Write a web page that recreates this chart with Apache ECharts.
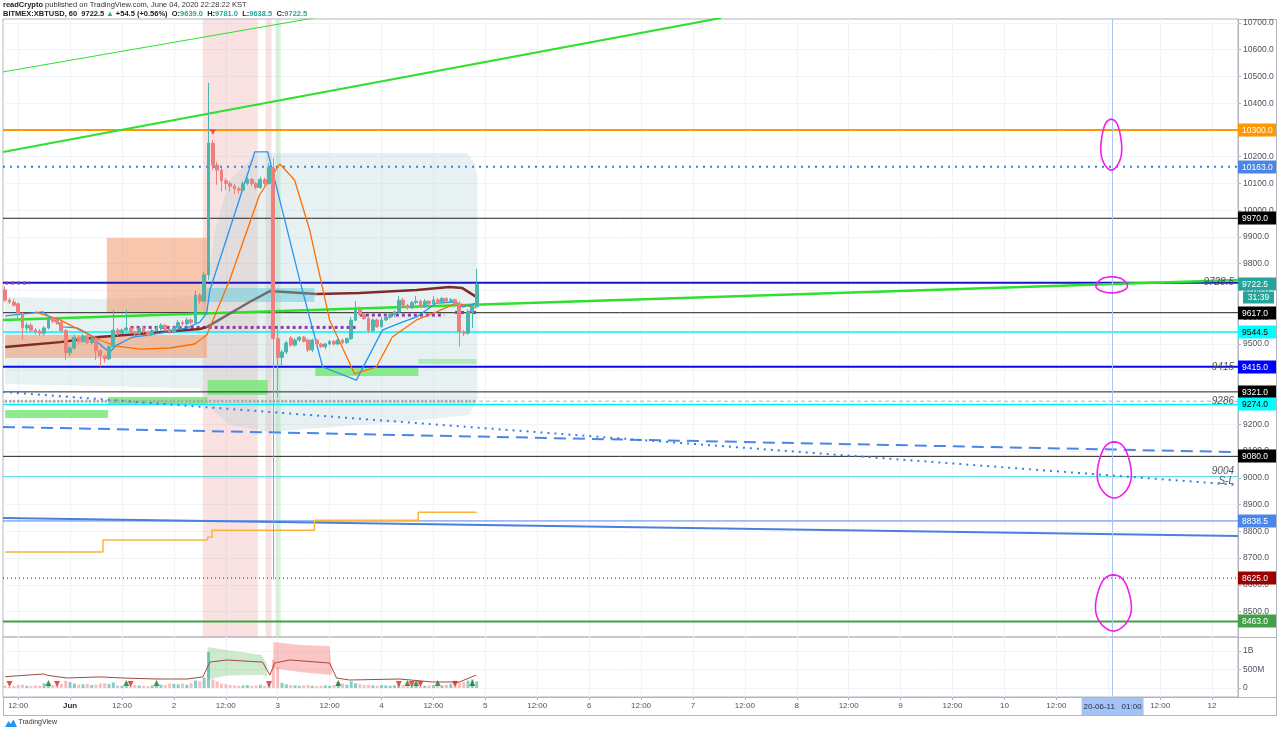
<!DOCTYPE html>
<html><head><meta charset="utf-8">
<script src="https://cdn.jsdelivr.net/npm/echarts@6/dist/echarts.min.js"></script>
<style>html,body{margin:0;padding:0;background:#fff}#c{width:1280px;height:731px}</style>
</head><body><div id="c"></div>
<script>
// ---------- DATA (hours from 2020-06-01 00:00, prices in USD) ----------
const START_HOUR = -15;
// hourly candles [open, high, low, close]
const candles = [
 [9702,9715,9657,9664],[9664,9672,9650,9657],[9657,9668,9640,9645],[9650,9655,9590,9613],[9613,9620,9515,9560],
 [9560,9580,9548,9570],[9570,9578,9545,9552],[9552,9560,9535,9545],[9548,9556,9530,9540],[9540,9566,9532,9560],
 [9560,9605,9555,9597],[9597,9603,9578,9585],[9588,9595,9572,9580],[9580,9586,9540,9550],[9550,9556,9440,9467],
 [9467,9492,9455,9485],[9485,9535,9478,9525],[9525,9532,9500,9510],[9510,9538,9505,9530],[9530,9534,9498,9505],
 [9505,9526,9498,9520],[9520,9524,9440,9475],[9475,9480,9415,9455],[9455,9460,9430,9445],[9445,9495,9440,9490],
 [9490,9627,9485,9552],[9552,9560,9530,9540],[9540,9558,9535,9552],[9552,9627,9545,9560],[9560,9565,9538,9545],
 [9545,9550,9530,9538],[9538,9566,9532,9560],[9560,9565,9540,9545],[9545,9550,9528,9535],[9535,9556,9530,9550],
 [9550,9566,9545,9560],[9560,9578,9550,9570],[9570,9575,9550,9555],[9555,9560,9538,9545],[9545,9566,9540,9560],
 [9560,9590,9555,9580],[9580,9588,9568,9575],[9575,9598,9570,9590],[9590,9596,9572,9580],[9580,9700,9575,9683],
 [9683,9690,9650,9660],[9660,9770,9655,9758],
 [9758,10476,9740,10251],[10251,10262,10150,10169],[10169,10180,10095,10150],[10150,10158,10070,10110],
 [10110,10120,10075,10100],[10100,10108,10070,10090],[10090,10098,10060,10080],[10080,10088,10062,10075],
 [10075,10108,10070,10100],[10100,10122,10094,10115],[10115,10120,10090,10100],[10100,10106,10078,10085],
 [10085,10125,10080,10115],[10115,10122,10092,10100],[10100,10175,10095,10160],
 [10160,10195,8620,9520],[9520,9560,9300,9450],
 [9450,9478,9420,9470],[9470,9512,9462,9504],[9522,9530,9490,9496],[9496,9522,9490,9515],[9515,9530,9508,9525],
 [9525,9530,9505,9510],[9515,9520,9470,9478],[9478,9520,9470,9515],[9515,9520,9495,9500],[9500,9505,9485,9490],
 [9490,9505,9480,9500],[9500,9515,9495,9510],[9510,9515,9494,9500],[9500,9520,9495,9515],[9515,9520,9500,9505],
 [9505,9525,9500,9520],[9520,9600,9515,9589],[9589,9660,9585,9627],[9627,9640,9605,9610],[9610,9615,9590,9595],
 [9595,9600,9540,9550],[9550,9595,9545,9590],[9590,9595,9560,9565],[9565,9600,9560,9590],[9590,9608,9585,9600],
 [9600,9615,9595,9610],[9610,9625,9600,9620],[9620,9680,9615,9664],[9664,9672,9640,9645],[9645,9650,9628,9635],
 [9635,9662,9630,9655],[9655,9680,9648,9660],[9660,9666,9635,9640],[9640,9668,9636,9660],[9660,9665,9645,9650],
 [9650,9678,9646,9665],[9665,9672,9650,9655],[9655,9676,9650,9670],[9670,9675,9655,9660],[9660,9672,9655,9665],
 [9665,9670,9645,9650],[9650,9660,9490,9545],[9545,9552,9530,9540],[9540,9630,9535,9620],[9620,9645,9560,9639],
 [9639,9781,9638.5,9722.5]
];
// hourly volume, millions
const volumes = [
 60,40,50,80,90,60,50,70,60,130,90,70,80,110,200,
 160,120,90,100,110,80,90,120,130,110,150,70,60,50,60,80,70,60,50,70,60,90,80,120,110,100,120,90,130,200,180,280,
 970,
 230,180,120,100,80,70,60,70,80,60,70,90,60,110,
 760,560,
 140,100,80,70,60,70,80,60,50,60,70,60,80,160,120,90,180,130,100,80,90,70,60,80,70,60,70,90,80,60,
 70,60,50,60,70,80,60,70,90,110,200,150,160,200,230,180
];
const xTicks = [-12,0,12,24,36,48,60,72,84,96,108,120,132,144,156,168,180,192,204,216,228,240,252,264];
const priceTicks = [8500,8600,8700,8800,8900,9000,9100,9200,9300,9400,9500,9600,9700,9800,9900,10000,10100,10200,10300,10400,10500,10600,10700];
const volTicks = [0,500,1000];

// horizontal levels
const levelPrices = [10300,10163,9970,9728.5,9617,9544.5,9415,9321,9286,9274,9080,9004,8838.5,8625,8463];
// price-axis boxes
const boxPrices = [10300,10163,9970,9722.5,9617,9544.5,9415,9321,9274,9080,8838.5,8625,8463];
const CURRENT_PRICE = 9722.5;
const countdown = '31:39';
const notes = [['9728.5',9728.5],['9415',9415],['9286',9286],['9004',9004],['S-L',9004]];

// trend lines [hour, price]
const greenUp = [[-15.5,10218],[150.5,10719]];
const greenThin = [[-15.5,10517],[56.5,10719]];
const greenLong = [[-15.5,9590],[270,9739]];
const blueDashed = [[-15.5,9190],[270,9096]];
const blueDotted = [[-15.5,9321],[270,8973]];
const blueSolid = [[-15.5,8850],[270,8782]];
const crossHour = 241; // 2020-06-11 01:00

// indicator lines
const blueMA = [[-15,9605],[-6.2,9620],[-1.6,9564],[1.6,9560],[4.6,9534],[7.6,9489],[9.2,9470],[10.8,9496],[14.5,9526],[18.5,9534],[22.4,9545],[27,9560],[30,9582],[31.6,9616],[32.3,9700],[42.7,10218],[45.7,10218],[53.1,9739],[58.4,9414],[66.2,9365],[72.2,9552],[76.2,9578],[80.1,9601],[84.7,9653],[89.3,9657],[90.7,9638],[93.9,9653]];
const orangeMA = [[-8.1,9620],[-2.3,9590],[2.3,9552],[6.9,9515],[10.4,9493],[16.2,9481],[23.1,9485],[28.8,9500],[31.6,9534],[36.9,9739],[43.8,10057],[48.5,10173],[51.9,10113],[55.4,9926],[60,9590],[65.8,9388],[70.8,9414],[74.5,9526],[80.1,9590],[84.7,9620],[89.3,9653],[93.9,9635]];
const maroonA = [[-15,9489],[-2.3,9507],[6.9,9526],[18.5,9541],[30,9556],[31.6,9563]];
const grayMA = [[31.6,9563],[41.5,9657],[46.2,9698],[57,9687]];
const maroonB = [[57,9687],[66.9,9691],[80.1,9702],[87.7,9713],[90.7,9709],[93.9,9676]];
const purpleSegs = [[[-15,9728],[-9.2,9728]],[[14,9562],[66.2,9562]],[[67,9608],[86.5,9608]],[[89,9618],[94,9618]]];
const graySupport = [[-15,9286],[94,9286]];
const yellowStep = [[-15,8722],[7.6,8767],[31.8,8778],[32.8,8804],[56.5,8841],[80.5,8871],[94,8871]];

// zones [hourFrom, hourTo, priceLow, priceHigh]
const peachZones = [[8.5,31.6,9616,9896],[-15,31.6,9448,9534]];
const cyanZones = [[31.6,56.5,9657,9709]];
const greenZones = [[-15,8.8,9223,9253],[8.8,31.8,9272,9302],[31.8,45.7,9309,9365],[56.7,80.5,9380,9411]];
const greenZonesLight = [[80.5,94,9425,9444]];
const pinkBands = [[30.7,43.4],[45.2,46.6]];
const greenBands = [[47.5,48.7]];
const tealCloud = [[-15,9676],[6.9,9668],[30,9679],[31.6,9702],[33.5,9926],[36.9,10113],[43.4,10214],[91.8,10214],[93.7,10169],[94.2,10121],[94.2,9291],[92.3,9235],[76.2,9208],[57.7,9186],[46.2,9171],[36.9,9197],[31.6,9272],[30,9335],[6.9,9343],[-15,9350]];
const sellSignal = [[33,10292]];
// hand-drawn ellipses [hour, price, radiusHours, radiusPrice]
const circles = [[240.7,10245,2.4,95],[240.8,9721,3.6,30],[241.4,9029,3.9,105],[241.2,8532,4.1,105]];

// volume pane
const volLine = [[-15,305],[-6.2,378],[-5.1,340],[-0.7,270],[6.9,300],[12.2,270],[20.1,243],[27,243],[30.7,300],[32.3,700],[36.2,757],[44.5,700],[46.2,350],[47.3,675],[50.8,757],[60,675],[61.6,270],[64.6,216],[76.2,243],[83.8,162],[90,162],[93.9,350]];
const volGreenBand = [[31.8,1108],[36.2,1027],[44.3,892],[45.5,650],[45.5,324],[44.3,350],[36.2,340],[31.8,216]];
const volRedBand = [[47,1243],[53,1162],[60,1135],[60.5,486],[60.5,351],[53,432],[47,540]];
const volDown = [[-14,110],[-3,110],[14,110],[46,110],[76,110],[79,110],[81,110],[89,110]];
const volUp = [[-5,135],[13,135],[20,135],[62,135],[78,135],[80,135],[85,135],[93,135]];

// ---------- CHART ----------
const X_MIN = -15.5, X_MAX = 270;
const P_MIN = 8404.7, P_MAX = 10714.9;
const V_MIN = -243, V_MAX = 1378;
const FF = 'Liberation Sans, Arial, sans-serif';
const AX = '#4c525e';
const GRIDC = '#f0f3fa';
const BORDER = '#b2b5be';

const levelStyle = [
 ['#ff9800',2,'solid'],['#3d7de6',2,[2,5]],['#222',1,'solid'],['#1616c8',2,'solid'],['#222',1,'solid'],
 ['#00f0ff',1.5,'solid'],['#0a0ae6',2,'solid'],['#222',1,'solid'],['#b0b0b0',1,[4,3]],['#00f0ff',1.5,'solid'],
 ['#222',1,'solid'],['#4dd0e1',1,'solid'],['#4a86e8',1,'solid'],['#990000',1,[1,3]],['#43a047',2,'solid']
];
const boxFill = ['#ff9800','#4a86e8','#000','#26a69a','#000','#00ffff','#0000ff','#000','#00ffff','#000','#4a86e8','#990000','#43a047'];
const boxText = ['#fff','#fff','#fff','#fff','#fff','#000','#fff','#fff','#000','#fff','#fff','#fff','#fff'];
const noteDy = [-1,0,0,-5,5];

const chart = echarts.init(document.getElementById('c'));

function line(data, color, width, type, z, grid) {
  return {type:'line', xAxisIndex:grid||0, yAxisIndex:grid||0, data:data, showSymbol:false, symbol:'none',
    silent:true, animation:false, z:z||3, lineStyle:{color:color, width:width, type:type||'solid'}};
}
function rects(data, fill, z) {
  return {type:'custom', xAxisIndex:0, yAxisIndex:0, silent:true, animation:false, z:z, clip:true, data:data,
    encode:{x:[0,1], y:[2,3]},
    renderItem:function(params, api){
      const a = api.coord([api.value(0), api.value(3)]);
      const b = api.coord([api.value(1), api.value(2)]);
      return {type:'rect', shape:{x:a[0], y:a[1], width:b[0]-a[0], height:b[1]-a[1]}, style:{fill:fill}};
    }};
}
function polygon(points, fill, z, grid) {
  return {type:'custom', xAxisIndex:grid||0, yAxisIndex:grid||0, silent:true, animation:false, z:z, clip:true,
    data:[points[0]],
    renderItem:function(params, api){
      return {type:'polygon', shape:{points:points.map(function(p){return api.coord(p);})}, style:{fill:fill}};
    }};
}

const series = [];
series.push(rects(pinkBands.map(function(b){return [b[0],b[1],P_MIN,P_MAX];}), 'rgba(230,150,150,0.28)', 1));
series.push(rects(greenBands.map(function(b){return [b[0],b[1],P_MIN,P_MAX];}), 'rgba(130,205,140,0.28)', 1));
series.push(polygon(tealCloud, 'rgba(170,206,206,0.28)', 1, 0));
series.push(rects(peachZones, 'rgba(242,150,105,0.55)', 2));
series.push(rects(cyanZones, 'rgba(110,205,222,0.55)', 2));
series.push(rects(greenZones, 'rgba(120,232,120,0.85)', 2));
series.push(rects(greenZonesLight, 'rgba(140,235,140,0.6)', 2));

levelPrices.forEach(function(p, i){
  const s = levelStyle[i];
  series.push(line([[X_MIN,p],[X_MAX,p]], s[0], s[1], s[2], 3));
});
series.push(line(graySupport, '#aaaaaa', 3, [2,2], 3));
series.push(line(greenUp, '#2fe02f', 2, 'solid', 3));
series.push(line(greenThin, '#2fe02f', 1, 'solid', 3));
series.push(line(greenLong, '#2fe02f', 2.5, 'solid', 4));
series.push(line(blueDashed, '#4a86e8', 2, [12,7], 3));
series.push(line(blueDotted, '#3d7de6', 2, [2,5], 3));
series.push(line(blueSolid, '#4a7fe0', 2, 'solid', 3));
var ys = line(yellowStep, '#f9b43a', 1.5, 'solid', 3); ys.step = 'end'; series.push(ys);
purpleSegs.forEach(function(sg){ series.push(line(sg, '#8e3aa8', 3, [3,3], 4)); });
series.push(line(maroonA, '#7f2b2b', 2.5, 'solid', 4));
series.push(line(grayMA, '#6f6f6f', 2.5, 'solid', 4));
series.push(line(maroonB, '#7f2b2b', 2.5, 'solid', 4));
series.push(line(blueMA, '#2196f3', 1.3, 'solid', 4));
series.push(line(orangeMA, '#ff6d00', 1.3, 'solid', 4));

// candles
series.push({type:'candlestick', xAxisIndex:0, yAxisIndex:0, silent:true, animation:false, z:5, barWidth:3.3,
  encode:{x:0, y:[1,2,3,4]},
  data: candles.map(function(c,i){ return [START_HOUR+i, c[0], c[3], c[2], c[1]]; }),
  itemStyle:{color:'#4db6ac', color0:'#ef7f7d', borderColor:'#4db6ac', borderColor0:'#ef7f7d', borderWidth:1}});
series.push({type:'scatter', xAxisIndex:0, yAxisIndex:0, silent:true, animation:false, z:6, data:sellSignal,
  symbol:'triangle', symbolRotate:180, symbolSize:6, itemStyle:{color:'#f23645'}});

// crosshair vertical line in both panes
[0,1].forEach(function(g){
  series.push({type:'line', xAxisIndex:g, yAxisIndex:g, data:[], silent:true, animation:false,
    markLine:{silent:true, symbol:'none', animation:false, label:{show:false},
      lineStyle:{color:'#a9c4f5', width:1, type:'solid'}, data:[{xAxis:crossHour}]}});
});

// hand-drawn circles
series.push({type:'custom', xAxisIndex:0, yAxisIndex:0, silent:true, animation:false, z:8, clip:false, data:circles,
  renderItem:function(params, api){
    const c = api.coord([api.value(0), api.value(1)]);
    const s = api.size([api.value(2), api.value(3)]);
    const pts = [];
    for (let k = 0; k <= 48; k++) {
      const a = -Math.PI*0.6 + k*(2*Math.PI+0.45)/48;
      const wob = 1 + 0.06*Math.sin(3*a);
      pts.push([c[0] + s[0]*Math.cos(a)*wob, c[1] + s[1]*Math.sin(a)]);
    }
    return {type:'polyline', shape:{points:pts}, style:{stroke:'#f21df0', lineWidth:1.6, fill:null}};
  }});

// price-axis boxes
series.push({type:'custom', xAxisIndex:0, yAxisIndex:0, silent:true, animation:false, z:20, clip:false,
  data: boxPrices.map(function(p,i){return [X_MAX, p, i];}),
  renderItem:function(params, api){
    const i = api.value(2), p = api.value(1);
    const y = Math.round(api.coord([X_MAX, p])[1]);
    const x = params.coordSys.x + params.coordSys.width;
    const ch = [
      {type:'rect', shape:{x:x, y:y-6.5, width:38, height:13}, style:{fill:boxFill[i]}},
      {type:'text', x:x+4, y:y+0.5, style:{text:p.toFixed(1), fill:boxText[i], fontSize:8.5, fontFamily:FF, verticalAlign:'middle', align:'left'}}
    ];
    if (p === CURRENT_PRICE) {
      ch.push({type:'rect', shape:{x:x+5, y:y+7.5, width:31, height:12}, style:{fill:boxFill[i]}});
      ch.push({type:'text', x:x+20.5, y:y+14, style:{text:countdown, fill:'#fff', fontSize:8.5, fontFamily:FF, verticalAlign:'middle', align:'center'}});
    }
    return {type:'group', children:ch};
  }});
// inline italic notes
series.push({type:'custom', xAxisIndex:0, yAxisIndex:0, silent:true, animation:false, z:19, clip:false,
  data: notes.map(function(n,i){return [X_MAX, n[1], i];}),
  renderItem:function(params, api){
    const i = api.value(2);
    const y = api.coord([X_MAX, api.value(1)])[1] + noteDy[i];
    const x = params.coordSys.x + params.coordSys.width - 4;
    return {type:'text', x:x, y:y, style:{text:notes[i][0], fill:'#50535e', fontSize:10, fontStyle:'italic', fontFamily:FF, verticalAlign:'middle', align:'right'}};
  }});

// volume pane
series.push(polygon(volGreenBand, 'rgba(76,175,80,0.28)', 1, 1));
series.push(polygon(volRedBand, 'rgba(242,80,80,0.33)', 1, 1));
series.push({type:'bar', xAxisIndex:1, yAxisIndex:1, silent:true, animation:false, z:2, barWidth:3,
  data: volumes.map(function(v,i){
    const c = candles[i];
    return {value:[START_HOUR+i, v], itemStyle:{color: c[3] >= c[0] ? 'rgba(38,166,154,0.55)' : 'rgba(239,83,80,0.38)'}};
  })});
series.push(line(volLine, '#a34a3e', 1, 'solid', 3, 1));
series.push({type:'scatter', xAxisIndex:1, yAxisIndex:1, silent:true, animation:false, z:6, data:volDown,
  symbol:'triangle', symbolRotate:180, symbolSize:6, itemStyle:{color:'#e0201e'}});
series.push({type:'scatter', xAxisIndex:1, yAxisIndex:1, silent:true, animation:false, z:6, data:volUp,
  symbol:'triangle', symbolSize:6, itemStyle:{color:'#1b7a1f'}});
// date highlight on time axis
series.push({type:'custom', xAxisIndex:1, yAxisIndex:1, silent:true, animation:false, z:20, clip:false, data:[[crossHour, 0]],
  renderItem:function(params, api){
    const x = api.coord([api.value(0), 0])[0];
    const y = params.coordSys.y + params.coordSys.height;
    return {type:'group', children:[
      {type:'rect', shape:{x:x-31, y:y+1, width:62, height:17}, style:{fill:'#a4c2f4'}},
      {type:'text', x:x, y:y+9.5, style:{text:'20-06-11   01:00', fill:'#1e2a44', fontSize:8, fontFamily:FF, align:'center', verticalAlign:'middle'}}
    ]};
  }});

function xLabel(h) {
  if (h % 24 === 0) return h === 0 ? '{b|Jun}' : String(h/24 + 1);
  return '12:00';
}

chart.setOption({
  backgroundColor:'#ffffff',
  animation:false,
  textStyle:{fontFamily:FF},
  grid:[
    {left:3, top:19, width:1235, height:618, show:true, borderColor:BORDER, borderWidth:1, outerBoundsMode:'none'},
    {left:3, top:637, width:1235, height:60, show:true, borderColor:BORDER, borderWidth:1, outerBoundsMode:'none'}
  ],
  xAxis:[
    {type:'value', gridIndex:0, min:X_MIN, max:X_MAX, axisLine:{show:false, onZero:false}, axisLabel:{show:false},
     axisTick:{show:false, customValues:xTicks}, splitLine:{show:true, lineStyle:{color:GRIDC}}},
    {type:'value', gridIndex:1, min:X_MIN, max:X_MAX, position:'bottom', axisLine:{show:true, onZero:false, lineStyle:{color:BORDER}},
     axisTick:{show:true, customValues:xTicks, length:3, lineStyle:{color:BORDER}},
     splitLine:{show:true, lineStyle:{color:GRIDC}},
     axisLabel:{customValues:xTicks, formatter:xLabel, color:AX, fontSize:8, margin:5, fontFamily:FF,
       rich:{b:{fontWeight:'bold', fontSize:8, color:'#2a2e39', fontFamily:FF}}}}
  ],
  yAxis:[
    {type:'value', gridIndex:0, position:'right', min:P_MIN, max:P_MAX,
     axisLine:{show:true, onZero:false, lineStyle:{color:BORDER}},
     axisTick:{show:true, customValues:priceTicks, length:3, lineStyle:{color:BORDER}},
     splitLine:{show:true, lineStyle:{color:GRIDC}},
     axisLabel:{customValues:priceTicks, formatter:function(v){return v.toFixed(1);}, color:AX, fontSize:8.5, margin:5, fontFamily:FF}},
    {type:'value', gridIndex:1, position:'right', min:V_MIN, max:V_MAX,
     axisLine:{show:true, onZero:false, lineStyle:{color:BORDER}},
     axisTick:{show:true, customValues:volTicks, length:3, lineStyle:{color:BORDER}},
     splitLine:{show:true, lineStyle:{color:GRIDC}},
     axisLabel:{customValues:volTicks, formatter:function(v){return v===0?'0':(v>=1000?(v/1000)+'B':v+'M');}, color:AX, fontSize:8.5, margin:5, fontFamily:FF}}
  ],
  graphic:[
    {type:'text', x:3, y:1, style:{text:'{b|readCrypto} published on TradingView.com, June 04, 2020 22:28:22 KST', fill:'#333', fontSize:7.5, fontFamily:FF,
      rich:{b:{fontWeight:'bold', fill:'#222', fontSize:7.5, fontFamily:FF}}}},
    {type:'text', x:3, y:10, style:{text:'{d|BITMEX:XBTUSD, 60  9722.5 }{t|▲}{d| +54.5 (+0.56%)  O:}{t|9639.0}{d|  H:}{t|9781.0}{d|  L:}{t|9638.5}{d|  C:}{t|9722.5}',
      fontSize:7.5, fontFamily:FF,
      rich:{d:{fill:'#222', fontWeight:'bold', fontSize:7.5, fontFamily:FF}, t:{fill:'#26a69a', fontWeight:'bold', fontSize:7.5, fontFamily:FF}}}},
    {type:'line', shape:{x1:1238, y1:19.5, x2:1277, y2:19.5}, style:{stroke:BORDER}},
    {type:'line', shape:{x1:1276.5, y1:19, x2:1276.5, y2:716}, style:{stroke:BORDER}},
    {type:'line', shape:{x1:1238, y1:637.5, x2:1277, y2:637.5}, style:{stroke:BORDER}},
    {type:'line', shape:{x1:1238, y1:697.5, x2:1277, y2:697.5}, style:{stroke:BORDER}},
    {type:'line', shape:{x1:3.5, y1:697, x2:3.5, y2:716}, style:{stroke:BORDER}},
    {type:'line', shape:{x1:3, y1:715.5, x2:1277, y2:715.5}, style:{stroke:BORDER}},
    {type:'polygon', shape:{points:[[5,727],[8.5,721],[10.5,724],[13.5,719.5],[17,727]]}, style:{fill:'#2196f3'}},
    {type:'text', x:18.5, y:719, style:{text:'TradingView', fill:'#333', fontSize:7, fontFamily:FF}}
  ],
  series: series
});
</script>
</body></html>
